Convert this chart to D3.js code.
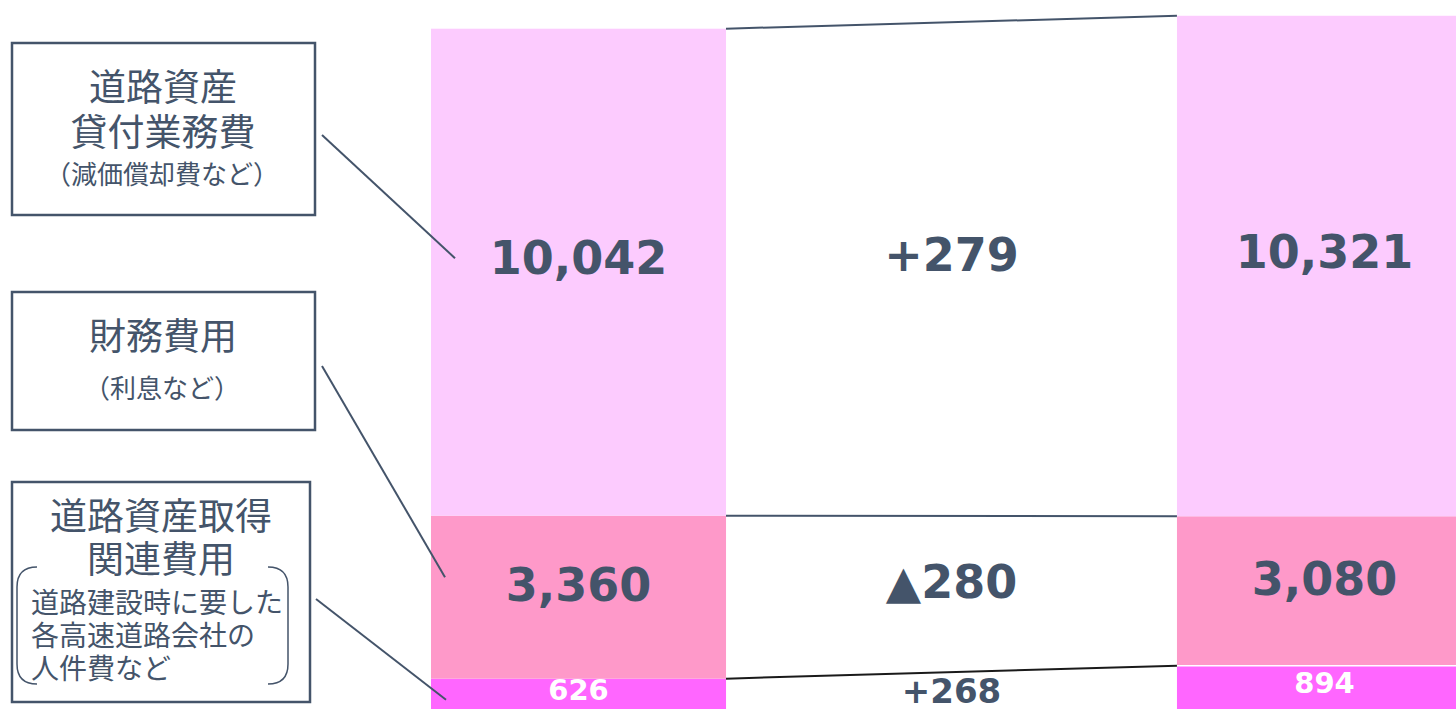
<!DOCTYPE html>
<html>
<head>
<meta charset="utf-8">
<script src="https://cdn.jsdelivr.net/npm/d3@7"></script>
<style>
body { margin: 0; background: #fff; overflow: hidden; }
</style>
</head>
<body>
<div id="chart-area"></div>
<script>
// data (segments listed bottom to top)
var columns = ["before", "diff", "after"];
var segKeys = ["acquisition", "finance", "lease"];
var beforeVals = [626, 3360, 10042];
var afterVals = [894, 3080, 10321];
var diffLabels = ["+268", "▲280", "+279"];

var segColors = ["#ff66ff", "#fe99c9", "#fccbfe"];
var ink = "#44546a";

var width = 1456;
var height = 709;

var svg = d3.select("#chart-area")
    .append("svg")
    .attr("width", width)
    .attr("height", height)
    .style("display", "block");

var x = d3.scaleBand()
    .domain(columns)
    .range([431, 1472])
    .paddingInner(0.209)
    .paddingOuter(0);

var y = d3.scaleLinear()
    .domain([0, 14620])
    .range([height, 0]);

var rows = [
    { col: "before" },
    { col: "after" }
];
segKeys.forEach(function(k, i) {
    rows[0][k] = beforeVals[i];
    rows[1][k] = afterVals[i];
});

var stack = d3.stack().keys(segKeys);
var series = stack(rows);

var fmt = d3.format(",");
var numFont = "'DejaVu Sans', Verdana, sans-serif";
var jaFont = "'Noto Sans CJK JP', 'Noto Sans', sans-serif";

// bars
var layers = svg.append("g").selectAll("g")
    .data(series)
    .enter().append("g")
    .attr("fill", function(d, i) { return segColors[i]; });

layers.selectAll("rect")
    .data(function(d) { return d; })
    .enter().append("rect")
    .attr("x", function(d) { return x(d.data.col); })
    .attr("y", function(d) { return y(d[1]); })
    .attr("width", x.bandwidth())
    .attr("height", function(d) { return y(d[0]) - y(d[1]); });

// thin white gap between bottom segments of the right bar
svg.append("line")
    .attr("x1", x("after"))
    .attr("x2", x("after") + x.bandwidth())
    .attr("y1", y(afterVals[0]))
    .attr("y2", y(afterVals[0]))
    .attr("stroke", "#fff")
    .attr("stroke-width", 1.5);

// connecting lines between the two bars
series.forEach(function(s, i) {
    svg.append("line")
        .attr("x1", x("before") + x.bandwidth())
        .attr("y1", y(s[0][1]))
        .attr("x2", x("after"))
        .attr("y2", y(s[1][1]))
        .attr("stroke", i === 0 ? "#1a1a1a" : ink)
        .attr("stroke-width", 2);
});

// value labels inside bars (nudged a little upward like the original)
var labelShift = [-4, -12, -14];
series.forEach(function(s, i) {
    s.forEach(function(d) {
        svg.append("text")
            .attr("x", x(d.data.col) + x.bandwidth() / 2)
            .attr("y", (y(d[0]) + y(d[1])) / 2 + labelShift[i])
            .attr("text-anchor", "middle")
            .attr("dominant-baseline", "central")
            .attr("font-family", numFont)
            .attr("font-weight", "bold")
            .attr("font-size", i === 0 ? "29px" : "46px")
            .attr("fill", i === 0 ? "#fff" : ink)
            .text(fmt(d.data[s.key]));
    });
});

// difference labels
series.forEach(function(s, i) {
    var mid = ((y(s[0][0]) + y(s[0][1])) / 2 + (y(s[1][0]) + y(s[1][1])) / 2) / 2;
    svg.append("text")
        .attr("x", x("diff") + x.bandwidth() / 2)
        .attr("y", mid + (i === 0 ? 0 : labelShift[i]))
        .attr("text-anchor", "middle")
        .attr("dominant-baseline", "central")
        .attr("font-family", numFont)
        .attr("font-weight", "bold")
        .attr("font-size", i === 0 ? "34px" : "46px")
        .attr("fill", ink)
        .text(diffLabels[i]);
});

// label boxes on the left
var boxes = [
    { x: 12, y: 43, w: 303, h: 172 },
    { x: 12, y: 292, w: 303, h: 138 },
    { x: 12, y: 482, w: 298, h: 220 }
];
svg.append("g").selectAll("rect")
    .data(boxes)
    .enter().append("rect")
    .attr("x", function(d) { return d.x; })
    .attr("y", function(d) { return d.y; })
    .attr("width", function(d) { return d.w; })
    .attr("height", function(d) { return d.h; })
    .attr("fill", "#fff")
    .attr("stroke", ink)
    .attr("stroke-width", 2.5);

var boxTexts = [
    { t: "道路資産", x: 163, y: 85, s: 37 },
    { t: "貸付業務費", x: 163, y: 130, s: 37 },
    { t: "（減価償却費など）", x: 162, y: 172, s: 26 },
    { t: "財務費用", x: 163, y: 334, s: 37 },
    { t: "（利息など）", x: 162, y: 386, s: 26 },
    { t: "道路資産取得", x: 161, y: 514, s: 37 },
    { t: "関連費用", x: 161, y: 557, s: 37 },
    { t: "道路建設時に要した", x: 31, y: 601, s: 28, a: "start" },
    { t: "各高速道路会社の", x: 31, y: 634, s: 28, a: "start" },
    { t: "人件費など", x: 31, y: 667, s: 28, a: "start" }
];
svg.append("g").selectAll("text")
    .data(boxTexts)
    .enter().append("text")
    .attr("x", function(d) { return d.x; })
    .attr("y", function(d) { return d.y; })
    .attr("text-anchor", function(d) { return d.a || "middle"; })
    .attr("dominant-baseline", "central")
    .attr("font-family", jaFont)
    .attr("font-size", function(d) { return d.s + "px"; })
    .attr("fill", ink)
    .text(function(d) { return d.t; });

// round brackets in the third box
svg.append("path")
    .attr("d", "M37,567 Q17,567 17,587 L17,664 Q17,684 37,684")
    .attr("fill", "none").attr("stroke", ink).attr("stroke-width", 1.5);
svg.append("path")
    .attr("d", "M268,567 Q288,567 288,587 L288,664 Q288,684 268,684")
    .attr("fill", "none").attr("stroke", ink).attr("stroke-width", 1.5);

// leader lines from boxes to bar segments
var segMid = series.map(function(s) { return (y(s[0][0]) + y(s[0][1])) / 2; });
var leaders = [
    { x1: 322, y1: 135, dx: 24, seg: 2, off: -14 },
    { x1: 322, y1: 366, dx: 14, seg: 1, off: -20 },
    { x1: 316, y1: 599, dx: 15, seg: 0, off: 6 }
];
leaders.forEach(function(l) {
    svg.append("line")
        .attr("x1", l.x1)
        .attr("y1", l.y1)
        .attr("x2", x("before") + l.dx)
        .attr("y2", segMid[l.seg] + l.off)
        .attr("stroke", ink)
        .attr("stroke-width", 2);
});
</script>
</body>
</html>
